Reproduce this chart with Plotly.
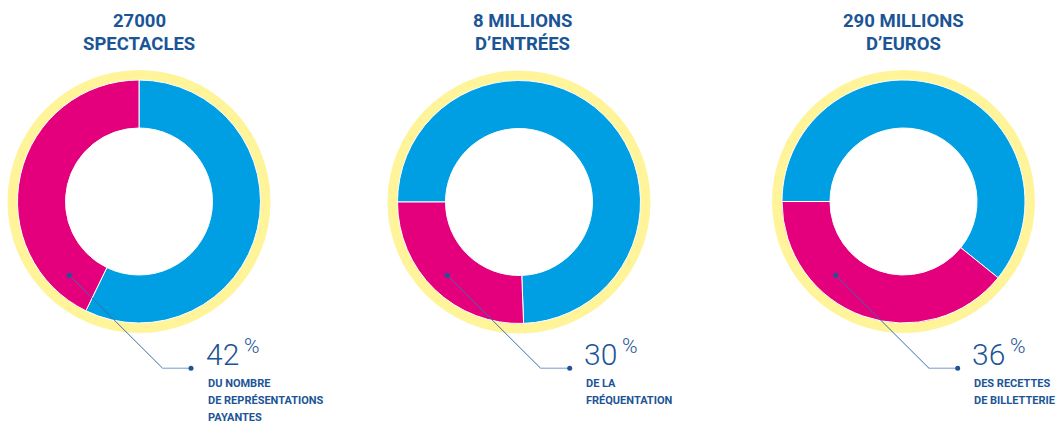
import plotly.graph_objects as go

W, H = 1058, 423

# ---- data ----
titles_line1 = ["27000", "8 MILLIONS", "290 MILLIONS"]
titles_line2 = ["SPECTACLES", "D\u2019ENTRÉES", "D\u2019EUROS"]
segments = ["Reste", "Part"]
blue_values = [57.2, 74.4, 60.8]
pink_values = [42.8, 25.6, 39.2]     # drawn slice share
pct_labels = ["42", "30", "36"]
desc_lines = [
    ["DU NOMBRE", "DE REPRÉSENTATIONS", "PAYANTES"],
    ["DE LA", "FRÉQUENTATION"],
    ["DES RECETTES", "DE BILLETTERIE"],
]

# ---- style / layout constants ----
PINK = "#E4007C"
BLUE = "#009FE3"
YELLOW = "#FFF49A"
DARK = "#1B5596"
LINE_DARK = "#3A6EA8"
LINE_LIGHT = "#A3BAD6"
TITLE_FONT = "Roboto, sans-serif"
BODY_FONT = "Roboto, sans-serif"
NUM_FONT = "Roboto, Lato, sans-serif"

centers = [(139, 201.5), (519, 202), (903.5, 201.5)]
title_x = [139, 522, 903]
rot = [0, -90, -90]
R_RING, R_DONUT, R_HOLE = 131.5, 121.5, 73.5
dots = [(69.3, 275.3), (447.3, 275.3), (835.7, 275.3)]
elbows = [(162.7, 368.3), (540.7, 368.3), (929, 368.3)]
ends = [(191, 368.3), (569.7, 368.3), (957.7, 368.3)]
text_x = [207, 585, 973]


def px(x, y):
    return x / W, 1 - y / H


def dom(cx, cy, r):
    return dict(x=[(cx - r) / W, (cx + r) / W], y=[1 - (cy + r) / H, 1 - (cy - r) / H])


fig = go.Figure()
for i, (cx, cy) in enumerate(centers):
    fig.add_trace(go.Pie(
        values=[1], labels=["ring"], hole=(R_DONUT - 1) / R_RING, sort=False,
        marker=dict(colors=[YELLOW], line=dict(width=0)),
        textinfo="none", hoverinfo="skip", showlegend=False,
        domain=dom(cx, cy, R_RING),
    ))
    fig.add_trace(go.Pie(
        values=[blue_values[i], pink_values[i]], labels=segments, hole=R_HOLE / R_DONUT,
        sort=False, direction="clockwise", rotation=rot[i],
        marker=dict(colors=[BLUE, PINK], line=dict(color="white", width=1)),
        textinfo="none", hoverinfo="label+value", showlegend=False,
        domain=dom(cx, cy, R_DONUT),
    ))

shapes = []
annotations = []
for i in range(3):
    # titles
    x, _ = px(title_x[i], 0)
    annotations.append(dict(x=x, y=px(0, 21)[1], xref="paper", yref="paper", text=titles_line1[i],
                            showarrow=False, xanchor="center", yanchor="middle",
                            font=dict(family=TITLE_FONT, size=18.5, color=DARK, weight="bold")))
    annotations.append(dict(x=x, y=px(0, 44.5)[1], xref="paper", yref="paper", text=titles_line2[i],
                            showarrow=False, xanchor="center", yanchor="middle",
                            font=dict(family=TITLE_FONT, size=18.5, color=DARK, weight="bold")))
    # leader lines
    x0, y0 = px(*dots[i]); x1, y1 = px(*elbows[i]); x2, y2 = px(*ends[i])
    shapes.append(dict(type="line", xref="paper", yref="paper", x0=x0, y0=y0, x1=x1, y1=y1,
                       line=dict(color=LINE_DARK, width=1)))
    shapes.append(dict(type="line", xref="paper", yref="paper", x0=x1, y0=y1, x1=x2, y1=y2,
                       line=dict(color=LINE_LIGHT, width=1.5)))
    for (dx, dy) in (dots[i], ends[i]):
        a, b = px(dx - 2.5, dy + 2.5); c, d = px(dx + 2.5, dy - 2.5)
        shapes.append(dict(type="circle", xref="paper", yref="paper", x0=a, y0=b, x1=c, y1=d,
                           fillcolor=DARK, line=dict(width=0)))
    # percentage
    tx = px(text_x[i], 0)[0]
    annotations.append(dict(x=tx, y=px(0, 354)[1], xref="paper", yref="paper",
                            text=pct_labels[i],
                            showarrow=False, xanchor="left", yanchor="middle", xshift=-3,
                            font=dict(family=NUM_FONT, size=30, color=DARK, weight=300)))
    annotations.append(dict(x=px(text_x[i] + 35, 0)[0], y=px(0, 346)[1], xref="paper", yref="paper",
                            text="%", showarrow=False, xanchor="left", yanchor="middle",
                            font=dict(family=NUM_FONT, size=21, color=DARK, weight=300)))
    for j, line in enumerate(desc_lines[i]):
        annotations.append(dict(x=tx, y=px(0, 383 + 17 * j)[1], xref="paper", yref="paper",
                                text=line, showarrow=False, xanchor="left", yanchor="middle",
                                xshift=-1,
                                font=dict(family=BODY_FONT, size=11, color=DARK, weight="bold")))

fig.update_layout(
    width=W, height=H, margin=dict(l=0, r=0, t=0, b=0),
    paper_bgcolor="white", plot_bgcolor="white",
    shapes=shapes, annotations=annotations, showlegend=False,
)
fig.write_html("out.html")
